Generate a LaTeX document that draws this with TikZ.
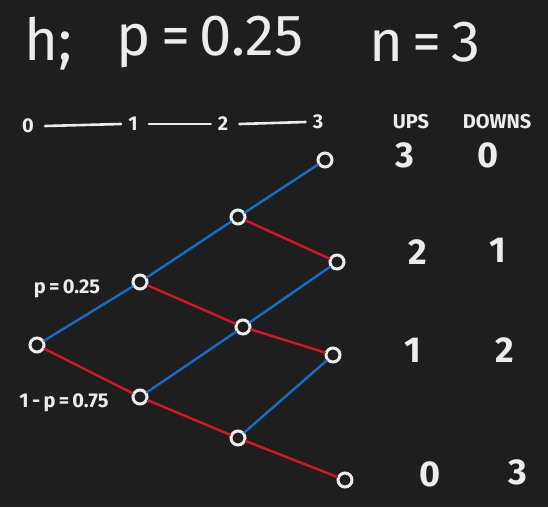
\documentclass[tikz,border=0pt]{standalone}
\usepackage{fontspec}
\setmainfont{Fira Sans}
\usetikzlibrary{positioning, arrows.meta}
\definecolor{board}{RGB}{30,30,30}
\definecolor{chalk}{RGB}{236,236,236}
\definecolor{upblue}{RGB}{22,108,200}
\definecolor{downred}{RGB}{214,22,40}

\begin{document}
\begin{tikzpicture}[x=1pt, y=-1pt,
    state/.style={circle, draw=chalk, fill=board, line width=3pt, minimum size=14pt, inner sep=0pt},
    upedge/.style={upblue, line width=2.4pt, line cap=round},
    downedge/.style={downred, line width=2.4pt, line cap=round},
    chalktext/.style={text=chalk, inner sep=1pt},
    bigtext/.style={chalktext, font=\fontsize{58}{58}\selectfont},
    headtext/.style={chalktext, font=\fontsize{20}{20}\selectfont\bfseries},
    valtext/.style={chalktext, font=\fontsize{36}{36}\selectfont\bfseries},
    steptext/.style={chalktext, font=\fontsize{20}{20}\selectfont\bfseries}]
\fill[board] (0,0) rectangle (548,507);
\useasboundingbox (0,0) rectangle (548,507);

% Title
\node[bigtext] (hname) at (48,44) {h;};
\node[bigtext] (pval) at (210,42) {p\,=\,0.25};
\node[bigtext] (nval) at (425,42) {n\,=\,3};

% Steps
\node[steptext] (s0) at (28,126) {0};
\node[steptext] (s1) at (133,124) {1};
\node[steptext] (s2) at (223,124) {2};
\node[steptext] (s3) at (318,122) {3};
\foreach \a/\b in {s0/s1, s1/s2, s2/s3}
    \draw[chalk, line width=2.6pt, line cap=round] ([xshift=10pt]\a.east) -- ([xshift=-6pt]\b.west);

% Headers
\node[headtext] (ups) at (411,122) {UPS};
\node[headtext] (downs) at (497,122) {DOWNS};

% Tree
\node[state] (n0) at (37,345) {};
\node[state] (u1) at (140,282) {};
\node[state] (d1) at (140,397) {};
\node[state] (uu2) at (238,217) {};
\node[state] (ud2) at (243,327) {};
\node[state] (dd2) at (238,438) {};
\node[state] (uuu3) at (325,160) {};
\node[state] (uud3) at (337,262) {};
\node[state] (udd3) at (333,355) {};
\node[state] (ddd3) at (345,480) {};

\foreach \a/\b in {n0/u1, u1/uu2, d1/ud2, uu2/uuu3, ud2/uud3, dd2/udd3}
    \draw[upedge] (\a) -- (\b);
\foreach \a/\b in {n0/d1, u1/ud2, d1/dd2, uu2/uud3, ud2/udd3, dd2/ddd3}
    \draw[downedge] (\a) -- (\b);

% Probabilities
\node[steptext] (pup) at (67,289) {p\,=\,0.25};
\node[steptext] (pdown) at (64,403) {1\,-\,p\,=\,0.75};

% Counts
\node[valtext] (c30) at (405,155) {3};
\node[valtext] (c03) at (488,155) {0};
\node[valtext] (c21) at (418,252) {2};
\node[valtext] (c12) at (498,250) {1};
\node[valtext] (c11) at (413,350) {1};
\node[valtext] (c22) at (505,350) {2};
\node[valtext] (c00) at (430,474) {0};
\node[valtext] (c33) at (518,472) {3};
\end{tikzpicture}
\end{document}
